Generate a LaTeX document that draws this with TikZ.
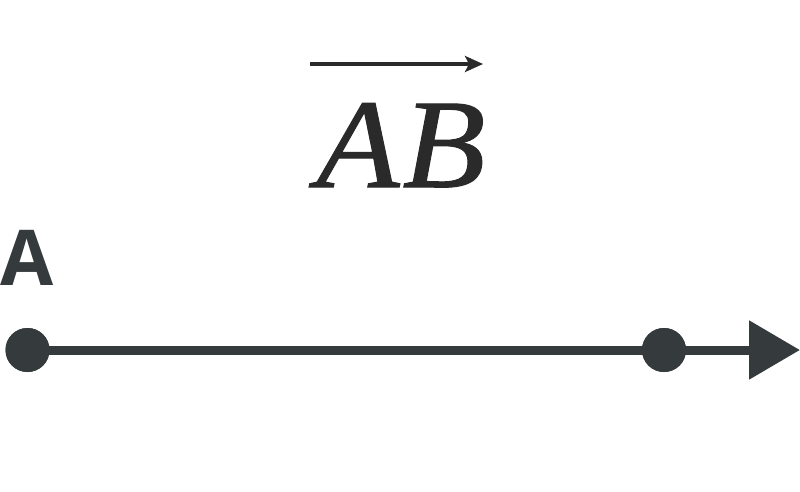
\documentclass[tikz,border=0pt]{standalone}
\usepackage{fontspec}
\setmainfont{Liberation Serif}
\newfontfamily\labelfont{Open Sans}
\newfontfamily\abfont[ItalicFeatures={FakeBold=0.8,FakeStretch=1.07}]{Liberation Serif}
\usetikzlibrary{arrows.meta}
\definecolor{linegray}{HTML}{353A3D}
\definecolor{textgray}{HTML}{2A2A2A}
\tikzset{
  dotnode/.style={circle,fill=linegray,draw=none,minimum size=44pt,inner sep=0pt},
  mainline/.style={draw=linegray,line width=9pt,-{Triangle[length=51pt,width=57pt]}},
  vecarrow/.style={draw=textgray,line width=3.2pt,-{Stealth[length=18pt,width=16pt,inset=4pt]}},
}
\begin{document}
\begin{tikzpicture}[x=1pt,y=-1pt]
\useasboundingbox (0,0) rectangle (800,492);
\node[anchor=base,inner sep=0pt,text=textgray,font=\fontsize{127}{127}\selectfont\abfont\itshape] (ab) at (401,187) {A\kern3pt B};
\coordinate (vs) at (310,64);
\coordinate (ve) at (483,64);
\draw[vecarrow] (vs) -- (ve);
\node[anchor=base west,inner sep=0pt,text=linegray,font=\fontsize{77}{77}\selectfont\labelfont\bfseries] (la) at (0,285) {A};
\node[dotnode] (pa) at (27.5,350) {};
\node[dotnode] (pb) at (664,350) {};
\coordinate (tip) at (800,350);
\draw[mainline] (pa.center) -- (tip);
\node[dotnode] at (pa.center) {};
\node[dotnode] at (pb.center) {};
\end{tikzpicture}
\end{document}
